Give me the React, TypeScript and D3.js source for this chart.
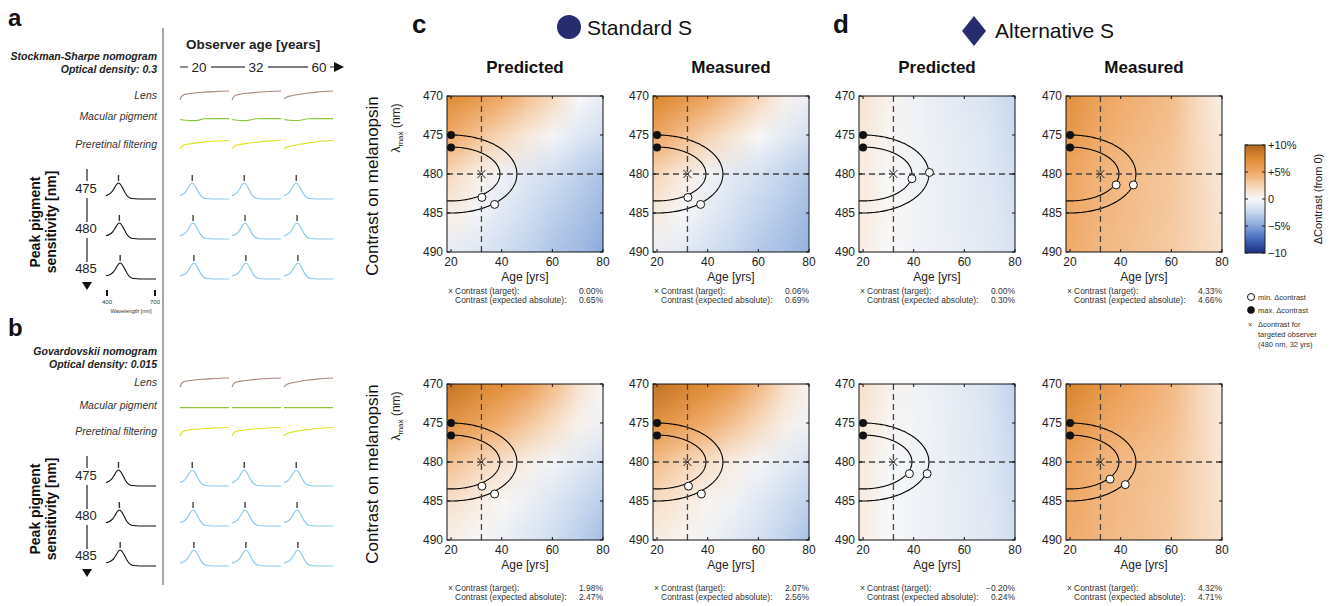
import { useMemo } from "react";
import * as d3 from "d3";

const FONT = "'Liberation Sans', Arial, Helvetica, sans-serif";

// ---- heatmap grids (delta contrast, %), rows = lambda, cols = age ----
const ageGrid = [20, 30, 40, 50, 60, 70, 80];
const lambdaGrid = [470, 475, 480, 485, 490];

const stdPredictedTop = [
  [7.2, 6.2, 5.0, 3.5, 2.0, 0.0, -0.8],
  [4.8, 3.5, 2.2, 1.0, -0.2, -1.2, -2.0],
  [2.0, 0.6, -0.4, -1.3, -2.0, -2.8, -3.5],
  [0.6, -0.3, -1.2, -2.0, -2.8, -3.4, -4.2],
  [-0.8, -1.3, -2.0, -2.7, -3.4, -4.0, -4.8],
];
const stdMeasuredTop = [
  [7.5, 6.5, 5.3, 3.8, 2.3, 0.4, -0.6],
  [5.0, 3.8, 2.5, 1.2, 0.0, -1.0, -1.8],
  [2.2, 0.8, -0.3, -1.1, -1.8, -2.6, -3.3],
  [0.8, -0.1, -1.0, -1.8, -2.6, -3.2, -4.0],
  [-0.6, -1.1, -1.8, -2.5, -3.2, -3.8, -4.5],
];
const altPredictedTop = [
  [1.3, 0.4, -0.4, -0.8, -1.2, -1.6, -2.5],
  [1.0, 0.2, -0.4, -0.7, -1.0, -1.4, -2.2],
  [0.8, 0.0, -0.4, -0.6, -0.9, -1.3, -2.0],
  [0.8, 0.1, -0.4, -0.6, -0.9, -1.2, -1.8],
  [0.7, 0.0, -0.4, -0.6, -0.8, -1.1, -1.6],
];
const altMeasuredTop = [
  [6.8, 5.6, 4.8, 4.3, 3.8, 2.0, 0.6],
  [6.2, 5.0, 4.4, 4.0, 3.5, 2.1, 0.9],
  [5.2, 4.4, 4.0, 3.6, 3.2, 2.2, 1.1],
  [5.0, 4.3, 3.9, 3.5, 3.1, 2.3, 1.3],
  [4.8, 4.2, 3.8, 3.4, 3.0, 2.3, 1.5],
];
const stdPredictedBottom = [
  [8.8, 7.8, 7.0, 5.8, 3.8, 1.5, 0.0],
  [6.5, 5.5, 4.5, 3.2, 1.8, 0.4, -0.5],
  [3.5, 2.4, 1.5, 0.6, -0.3, -1.1, -1.9],
  [1.5, 0.8, 0.1, -0.6, -1.4, -2.2, -3.0],
  [0.5, 0.0, -0.6, -1.3, -2.0, -2.9, -3.8],
];
const stdMeasuredBottom = [
  [9.0, 8.0, 7.2, 6.0, 4.0, 1.7, 0.2],
  [6.7, 5.7, 4.7, 3.4, 2.0, 0.6, -0.4],
  [3.7, 2.5, 1.6, 0.7, -0.2, -1.0, -1.7],
  [1.7, 1.0, 0.3, -0.4, -1.2, -2.0, -2.8],
  [0.7, 0.2, -0.4, -1.1, -1.8, -2.7, -3.6],
];
const altPredictedBottom = [
  [1.5, 0.5, -0.3, -0.7, -1.1, -1.6, -2.8],
  [1.2, 0.2, -0.3, -0.6, -1.0, -1.5, -2.5],
  [0.9, -0.1, -0.4, -0.6, -1.0, -1.4, -2.3],
  [0.8, 0.0, -0.4, -0.6, -0.9, -1.3, -2.1],
  [0.7, 0.0, -0.4, -0.6, -0.9, -1.2, -2.0],
];
const altMeasuredBottom = [
  [7.8, 6.6, 5.6, 4.8, 4.0, 2.4, 0.8],
  [6.6, 5.5, 4.8, 4.3, 3.7, 2.4, 1.0],
  [5.4, 4.5, 4.0, 3.7, 3.3, 2.3, 1.2],
  [5.0, 4.4, 3.9, 3.6, 3.2, 2.3, 1.4],
  [4.8, 4.3, 3.8, 3.5, 3.1, 2.3, 1.5],
];

const heatGrids = [
  [stdPredictedTop, stdMeasuredTop, altPredictedTop, altMeasuredTop],
  [stdPredictedBottom, stdMeasuredBottom, altPredictedBottom, altMeasuredBottom],
];

const columnTitles = ["Predicted", "Measured", "Predicted", "Measured"];
const targetContrast = [
  ["0.00%", "0.06%", "0.00%", "4.33%"],
  ["1.98%", "2.07%", "\u22120.20%", "4.32%"],
];
const absoluteContrast = [
  ["0.65%", "0.69%", "0.30%", "4.66%"],
  ["2.47%", "2.56%", "0.24%", "4.71%"],
];

// min delta-contrast points [age, lambda] (inner, outer contour)
const minPoints = [
  [
    [[32.2, 483.0], [37.2, 483.9]],
    [[32.2, 483.0], [37.2, 483.9]],
    [[39.3, 480.6], [46.2, 479.8]],
    [[38.2, 481.4], [45.0, 481.4]],
  ],
  [
    [[32.2, 483.1], [37.2, 484.1]],
    [[32.4, 483.1], [37.5, 484.1]],
    [[38.3, 481.5], [45.3, 481.5]],
    [[35.8, 482.2], [41.8, 482.9]],
  ],
];
const maxPoints = [[20, 475], [20, 476.6]];
const target = [32, 480];
const contours = [
  { cx: 20, cy: 480, rx: 19.3, ry: 3.45 },
  { cx: 20, cy: 480, rx: 26, ry: 5 },
];

const xTicks = [20, 40, 60, 80];
const yTicks = [470, 475, 480, 485, 490];

const colorStops = [-10, -7.5, -5, -2.5, 0, 2.5, 5, 7.5, 10];
const colorHex = ["#1b2c80", "#4467ba", "#86a6da", "#c6d7ef", "#f8f8f8", "#f7d4b3", "#f0a866", "#de8a32", "#b1661f"];
const cbarTicks = [10, 5, 0, -5, -10];
const cbarLabels = ["+10%", "+5%", "0", "\u22125%", "\u221210"];

// ---- nomogram panels (a, b) ----
const observerAges = ["20", "32", "60"];
const filterWl = [400, 410, 420, 440, 460, 500, 550, 600, 650, 700];
const lensA = [
  [0.0, 0.4, 0.55, 0.65, 0.72, 0.8, 0.87, 0.93, 0.97, 1],
  [0.0, 0.35, 0.5, 0.6, 0.67, 0.76, 0.85, 0.92, 0.97, 1],
  [0.15, 0.25, 0.35, 0.45, 0.52, 0.64, 0.77, 0.88, 0.95, 1],
];
const macularA = [
  [0.6, 0.5, 0.4, 0.3, 0.15, 0.2, 0.95, 1, 1, 1],
  [0.6, 0.5, 0.4, 0.3, 0.15, 0.25, 0.95, 1, 1, 1],
  [0.6, 0.5, 0.4, 0.3, 0.2, 0.3, 0.95, 1, 1, 1],
];
const preretinalA = [
  [0.0, 0.3, 0.45, 0.55, 0.6, 0.72, 0.84, 0.92, 0.97, 1],
  [0.0, 0.25, 0.4, 0.5, 0.56, 0.68, 0.8, 0.9, 0.96, 1],
  [0.05, 0.15, 0.25, 0.35, 0.42, 0.56, 0.72, 0.86, 0.95, 1],
];
const lensB = [
  [0.0, 0.4, 0.55, 0.65, 0.72, 0.8, 0.87, 0.93, 0.97, 1],
  [0.0, 0.35, 0.5, 0.6, 0.66, 0.75, 0.85, 0.92, 0.97, 1],
  [0.0, 0.2, 0.3, 0.42, 0.5, 0.63, 0.77, 0.88, 0.95, 1],
];
const macularB = [
  [1, 1, 1, 1, 1, 1, 1, 1, 1, 1],
  [1, 1, 1, 1, 1, 1, 1, 1, 1, 1],
  [1, 1, 1, 1, 1, 1, 1, 1, 1, 1],
];
const preretinalB = [
  [0.0, 0.4, 0.55, 0.65, 0.72, 0.8, 0.87, 0.93, 0.97, 1],
  [0.0, 0.35, 0.5, 0.6, 0.66, 0.75, 0.85, 0.92, 0.97, 1],
  [0.0, 0.2, 0.3, 0.42, 0.5, 0.63, 0.77, 0.88, 0.95, 1],
];

const peakLambdas = [475, 480, 485];
const sensWl = [400, 420, 440, 455, 470, 480, 490, 505, 520, 540, 560, 600, 650, 700];
const sensVal = [0.2, 0.28, 0.45, 0.68, 0.93, 1.0, 0.93, 0.68, 0.38, 0.12, 0.03, 0.0, 0.0, 0.0];

const colX = [447, 653, 859, 1066];
const rowY = [96, 384];
const PW = 156;
const PH = 156;

const color = d3
  .scaleLinear<string>()
  .domain(colorStops)
  .range(colorHex)
  .interpolate(d3.interpolateRgb)
  .clamp(true);

function HeatPanel({ row, col }: { row: number; col: number }) {
  const grid = heatGrids[row][col];
  const x0 = colX[col];
  const y0 = rowY[row];
  const x = d3.scaleLinear().domain([18.4, 80]).range([x0, x0 + PW]);
  const y = d3.scaleLinear().domain([470, 490]).range([y0, y0 + PH]);
  const clipId = `clip-${row}-${col}`;

  // image of the grid, padded by one cell so smoothing never fades at the edges
  const url = useMemo(() => {
    const nx = ageGrid.length + 2;
    const ny = lambdaGrid.length + 2;
    const cv = document.createElement("canvas");
    cv.width = nx;
    cv.height = ny;
    const ctx = cv.getContext("2d")!;
    const img = ctx.createImageData(nx, ny);
    for (let j = 0; j < ny; j++) {
      for (let i = 0; i < nx; i++) {
        const gj = Math.min(Math.max(j - 1, 0), lambdaGrid.length - 1);
        const gi = Math.min(Math.max(i - 1, 0), ageGrid.length - 1);
        const c = d3.rgb(color(grid[gj][gi]));
        const k = (j * nx + i) * 4;
        img.data[k] = c.r;
        img.data[k + 1] = c.g;
        img.data[k + 2] = c.b;
        img.data[k + 3] = 255;
      }
    }
    ctx.putImageData(img, 0, 0);
    return cv.toDataURL();
  }, [grid]);

  const ellipse = (c: { cx: number; cy: number; rx: number; ry: number }) =>
    d3
      .line<number>()
      .x((t) => x(c.cx + c.rx * Math.cos(t)))
      .y((t) => y(c.cy + c.ry * Math.sin(t)))(d3.range(0, 2 * Math.PI + 0.01, 0.02));

  const ty = row === 0 ? 294 : 591;

  return (
    <g>
      <defs>
        <clipPath id={clipId}>
          <rect x={x0} y={y0} width={PW} height={PH} />
        </clipPath>
      </defs>
      <g clipPath={`url(#${clipId})`}>
        <image
          href={url}
          x={x(5)}
          y={y(462.5)}
          width={x(95) - x(5)}
          height={y(497.5) - y(462.5)}
          preserveAspectRatio="none"
        />
        {contours.map((c, i) => (
          <path key={i} d={ellipse(c) || ""} fill="none" stroke="#000" strokeWidth={1.1} />
        ))}
      </g>
      <line x1={x(target[0])} x2={x(target[0])} y1={y0} y2={y0 + PH} stroke="#444" strokeWidth={1.3} strokeDasharray="6,4" />
      <line x1={x0} x2={x0 + PW} y1={y(target[1])} y2={y(target[1])} stroke="#444" strokeWidth={1.3} strokeDasharray="6,4" />
      <rect x={x0} y={y0} width={PW} height={PH} fill="none" stroke="#111" strokeWidth={1} />
      {xTicks.map((t) => (
        <g key={t}>
          <line x1={x(t)} x2={x(t)} y1={y0 + PH} y2={y0 + PH - 3} stroke="#111" />
          <line x1={x(t)} x2={x(t)} y1={y0} y2={y0 + 3} stroke="#111" />
          <text x={x(t)} y={y0 + PH + 14} textAnchor="middle" fontSize={12} fill="#222">
            {t}
          </text>
        </g>
      ))}
      {yTicks.map((t) => (
        <g key={t}>
          <line x1={x0} x2={x0 + 3} y1={y(t)} y2={y(t)} stroke="#111" />
          <line x1={x0 + PW} x2={x0 + PW - 3} y1={y(t)} y2={y(t)} stroke="#111" />
          <text x={x0 - 4} y={y(t) + 4} textAnchor="end" fontSize={12} fill="#222">
            {t}
          </text>
        </g>
      ))}
      <text x={x0 + PW / 2} y={y0 + PH + 29} textAnchor="middle" fontSize={12} fill="#222">
        Age [yrs]
      </text>
      {/* target cross */}
      <path
        d={`M${x(target[0]) - 4},${y(target[1]) - 4}L${x(target[0]) + 4},${y(target[1]) + 4}M${x(target[0]) - 4},${y(target[1]) + 4}L${x(target[0]) + 4},${y(target[1]) - 4}`}
        stroke="#222"
        strokeWidth={1}
      />
      {maxPoints.map((p, i) => (
        <circle key={i} cx={x(p[0])} cy={y(p[1])} r={4} fill="#111" />
      ))}
      {minPoints[row][col].map((p, i) => (
        <circle key={i} cx={x(p[0])} cy={y(p[1])} r={4} fill="#fff" stroke="#111" strokeWidth={1} />
      ))}
      {/* contrast text */}
      <g fontSize={8.5} fill="#333">
        <text x={x0 + 1} y={ty}>
          {"\u00d7"}
        </text>
        <text x={x0 + 8} y={ty}>
          Contrast (target):
        </text>
        <text x={x0 + PW} y={ty} textAnchor="end">
          {targetContrast[row][col]}
        </text>
        <text x={x0 + 8} y={ty + 9}>
          Contrast (expected absolute):
        </text>
        <text x={x0 + PW} y={ty + 9} textAnchor="end">
          {absoluteContrast[row][col]}
        </text>
      </g>
    </g>
  );
}

function RowLabel({ row }: { row: number }) {
  const y0 = rowY[row];
  return (
    <g>
      <text transform={`translate(378,${y0 + 90}) rotate(-90)`} textAnchor="middle" fontSize={17} fill="#111">
        Contrast on melanopsin
      </text>
      <text transform={`translate(400,${y0 + 32}) rotate(-90)`} textAnchor="middle" fontSize={12} fill="#222">
        <tspan>λ</tspan>
        <tspan dy={3} fontSize={8}>
          max
        </tspan>
        <tspan dy={-3}> (nm)</tspan>
      </text>
    </g>
  );
}

type BlockProps = {
  letter: string;
  letterY: number;
  title1: string;
  title2: string;
  titleY: number;
  lensY: number;
  macY: number;
  preY: number;
  lens: number[][];
  mac: number[][];
  pre: number[][];
  macAmp: number;
  baselines: number[];
  showAxis: boolean;
};

const filterCols = [180, 232, 284];
const FW = 49;

function Block(p: BlockProps) {
  const curve = (vals: number[], cx: number, bottom: number, amp: number) => {
    const xs = d3.scaleLinear().domain([400, 700]).range([cx, cx + FW]);
    const ys = d3.scaleLinear().domain([0, 1]).range([bottom, bottom - amp]);
    return d3
      .line<number>()
      .x((_, i) => xs(filterWl[i]))
      .y((v) => ys(v))
      .curve(d3.curveMonotoneX)(vals) || "";
  };
  const sens = (cx: number, w: number, base: number, peak: number) => {
    const xs = d3.scaleLinear().domain([400, 700]).range([cx, cx + w]).clamp(true);
    const ys = d3.scaleLinear().domain([0, 1]).range([base, base - 16]);
    const shift = peak - 480;
    return {
      d:
        d3
          .line<number>()
          .x((_, i) => xs(sensWl[i] + (i === 0 || i === sensWl.length - 1 ? 0 : shift)))
          .y((v) => ys(v))
          .curve(d3.curveMonotoneX)(sensVal) || "",
      px: xs(peak),
      py: ys(1),
    };
  };
  const labels = ["Lens", "Macular pigment", "Preretinal filtering"];
  const labelYs = [p.lensY, p.macY, p.preY];
  const connectorX = 87;
  return (
    <g>
      <text x={8} y={p.letterY} fontSize={24} fontWeight="bold" fill="#111">
        {p.letter}
      </text>
      <g fontSize={10.5} fontWeight="bold" fontStyle="italic" textAnchor="end" fill="#222">
        <text x={157} y={p.titleY}>
          {p.title1}
        </text>
        <text x={157} y={p.titleY + 13}>
          {p.title2}
        </text>
      </g>
      {labels.map((l, i) => (
        <text key={l} x={157} y={labelYs[i] + 1} fontSize={10.5} fontStyle="italic" textAnchor="end" fill="#333">
          {l}
        </text>
      ))}
      {filterCols.map((cx, i) => (
        <g key={cx} fill="none" strokeWidth={1.1}>
          <path d={curve(p.lens[i], cx, p.lensY + 2, 9)} stroke="#a9877b" />
          <path d={curve(p.mac[i], cx, p.macY + 2, p.macAmp)} stroke="#8cc63f" />
          <path d={curve(p.pre[i], cx, p.preY + 2, 8.5)} stroke="#e1df1f" />
        </g>
      ))}
      {peakLambdas.map((pk, r) => {
        const base = p.baselines[r];
        const ref = sens(106, 50, base, pk);
        return (
          <g key={pk}>
            <text x={86} y={base - 6} textAnchor="middle" fontSize={13} fill="#222">
              {pk}
            </text>
            <path d={ref.d} fill="none" stroke="#111" strokeWidth={1.1} />
            <line x1={ref.px} x2={ref.px} y1={ref.py - 8} y2={ref.py - 2} stroke="#333" strokeWidth={1.4} />
            {filterCols.map((cx) => {
              const s = sens(cx, FW, base, pk);
              return (
                <g key={cx}>
                  <path d={s.d} fill="none" stroke="#8ccaee" strokeWidth={1.2} />
                  <line x1={s.px} x2={s.px} y1={s.py - 8} y2={s.py - 2} stroke="#444" strokeWidth={1.4} />
                </g>
              );
            })}
          </g>
        );
      })}
      <g stroke="#444" strokeWidth={1.4}>
        <line x1={connectorX} x2={connectorX} y1={p.baselines[0] - 30} y2={p.baselines[0] - 18} />
        <line x1={connectorX} x2={connectorX} y1={p.baselines[0] - 1} y2={p.baselines[1] - 17} />
        <line x1={connectorX} x2={connectorX} y1={p.baselines[1] - 1} y2={p.baselines[2] - 17} />
      </g>
      <path
        d={`M${connectorX - 5},${p.baselines[2] + 3}L${connectorX + 5},${p.baselines[2] + 3}L${connectorX},${p.baselines[2] + 11}Z`}
        fill="#111"
      />
      <text
        transform={`translate(40,${(p.baselines[0] + p.baselines[2]) / 2 - 17}) rotate(-90)`}
        textAnchor="middle"
        fontSize={14}
        fontWeight="bold"
        fill="#111"
      >
        Peak pigment
      </text>
      <text
        transform={`translate(56,${(p.baselines[0] + p.baselines[2]) / 2 - 17}) rotate(-90)`}
        textAnchor="middle"
        fontSize={14}
        fontWeight="bold"
        fill="#111"
      >
        sensitivity [nm]
      </text>
      {p.showAxis && (
        <g>
          <line x1={107} x2={107} y1={290} y2={296} stroke="#111" strokeWidth={2} />
          <line x1={155} x2={155} y1={290} y2={296} stroke="#111" strokeWidth={2} />
          <text x={107} y={304} fontSize={6} textAnchor="middle" fill="#333">
            400
          </text>
          <text x={155} y={304} fontSize={6} textAnchor="middle" fill="#333">
            700
          </text>
          <text x={131} y={313} fontSize={5.5} textAnchor="middle" fill="#333">
            Wavelength [nm]
          </text>
        </g>
      )}
    </g>
  );
}

function AgeAxis() {
  const ticksX = [199, 256, 319];
  return (
    <g>
      <text x={186} y={49} fontSize={13.5} fontWeight="bold" fill="#222">
        Observer age [years]
      </text>
      <g stroke="#555" strokeWidth={1.3}>
        <line x1={180} x2={188} y1={67} y2={67} />
        <line x1={211} x2={245} y1={67} y2={67} />
        <line x1={268} x2={308} y1={67} y2={67} />
        <line x1={330} x2={335} y1={67} y2={67} />
      </g>
      <path d="M334,62L344,67L334,72Z" fill="#111" />
      {observerAges.map((a, i) => (
        <text key={a} x={ticksX[i]} y={72} fontSize={13.5} textAnchor="middle" fill="#222">
          {a}
        </text>
      ))}
    </g>
  );
}

function ColorBar() {
  const cy = d3.scaleLinear().domain([-10, 10]).range([253, 145]);
  return (
    <g>
      <defs>
        <linearGradient id="cbar" x1="0" y1="1" x2="0" y2="0">
          {colorStops.map((s, i) => (
            <stop key={s} offset={`${((s + 10) / 20) * 100}%`} stopColor={colorHex[i]} />
          ))}
        </linearGradient>
      </defs>
      <rect x={1245} y={cy(10)} width={20} height={cy(-10) - cy(10)} fill="url(#cbar)" stroke="#222" strokeWidth={1} />
      {cbarTicks.map((t, i) => (
        <g key={t}>
          <line x1={1245} x2={1248} y1={cy(t)} y2={cy(t)} stroke="#222" />
          <line x1={1265} x2={1262} y1={cy(t)} y2={cy(t)} stroke="#222" />
          <text x={1268} y={cy(t) + 4} fontSize={11} fill="#222">
            {cbarLabels[i]}
          </text>
        </g>
      ))}
      <text transform="translate(1322,199) rotate(-90)" textAnchor="middle" fontSize={11} fill="#222">
        ΔContrast (from 0)
      </text>
      <g fontSize={7.5} fill="#333">
        <circle cx={1251} cy={297} r={3.5} fill="#fff" stroke="#111" />
        <text x={1258} y={300}>
          min. Δcontrast
        </text>
        <circle cx={1251} cy={310} r={3.8} fill="#111" />
        <text x={1258} y={313}>
          max. Δcontrast
        </text>
        <text x={1248} y={327}>
          {"\u00d7"}
        </text>
        <text x={1258} y={327}>
          Δcontrast for
        </text>
        <text x={1258} y={337}>
          targeted observer
        </text>
        <text x={1258} y={347}>
          (480 nm, 32 yrs)
        </text>
      </g>
    </g>
  );
}

export default function App() {
  return (
    <svg
      width={1334}
      height={606}
      style={{ position: "absolute", left: 0, top: 0 }}
      fontFamily={FONT}
    >
      <rect width={1334} height={606} fill="#fff" />
      <Block
        letter="a"
        letterY={26}
        title1="Stockman-Sharpe nomogram"
        title2="Optical density: 0.3"
        titleY={60}
        lensY={98}
        macY={119}
        preY={147}
        lens={lensA}
        mac={macularA}
        pre={preretinalA}
        macAmp={2.4}
        baselines={[199, 239, 279]}
        showAxis={true}
      />
      <Block
        letter="b"
        letterY={336}
        title1="Govardovskii nomogram"
        title2="Optical density: 0.015"
        titleY={355}
        lensY={385}
        macY={408}
        preY={434}
        lens={lensB}
        mac={macularB}
        pre={preretinalB}
        macAmp={2.4}
        baselines={[486, 526, 566]}
        showAxis={false}
      />
      <line x1={163} x2={163} y1={28} y2={585} stroke="#888" strokeWidth={1.5} />
      <AgeAxis />

      <text x={412} y={33} fontSize={26} fontWeight="bold" fill="#111">
        c
      </text>
      <circle cx={569} cy={27} r={12} fill="#262c6e" />
      <text x={587} y={35} fontSize={21} fill="#111">
        Standard S
      </text>
      <text x={833} y={33} fontSize={26} fontWeight="bold" fill="#111">
        d
      </text>
      <path d="M974,16L986,31L974,46L962,31Z" fill="#262c6e" />
      <text x={995} y={38} fontSize={21} fill="#111">
        Alternative S
      </text>

      {columnTitles.map((t, i) => (
        <text key={i} x={colX[i] + PW / 2} y={73} textAnchor="middle" fontSize={17} fontWeight="bold" fill="#111">
          {t}
        </text>
      ))}
      {[0, 1].map((r) => (
        <RowLabel key={r} row={r} />
      ))}
      {[0, 1].map((r) => [0, 1, 2, 3].map((c) => <HeatPanel key={`${r}-${c}`} row={r} col={c} />))}
      <ColorBar />
    </svg>
  );
}
